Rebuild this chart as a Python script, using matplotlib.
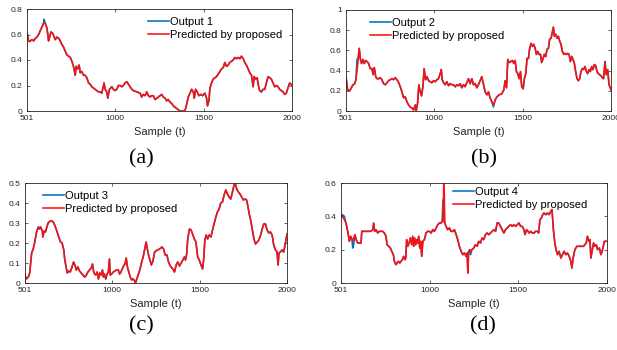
import matplotlib
matplotlib.use("Agg")
import matplotlib.pyplot as plt

plt.rcParams['font.family'] = ['Liberation Sans', 'DejaVu Sans']

BLUE = '#0072bd'
RED = '#ff1010'
GREY = '#262626'

# ---- output 1 ----
t1 = [501, 510, 516, 529, 539, 548, 557, 567, 576, 586,
      595, 597, 604, 614, 620, 623, 629, 636, 646, 655,
      661, 670, 680, 689, 699, 708, 717, 727, 736, 746,
      755, 764, 774, 779, 787, 796, 802, 811, 821, 830,
      840, 849, 858, 868, 877, 887, 896, 905, 915, 924,
      937, 943, 952, 958, 967, 981, 990, 999, 1009, 1018,
      1028, 1037, 1046, 1056, 1065, 1075, 1084, 1094, 1103, 1122,
      1141, 1150, 1159, 1169, 1178, 1188, 1197, 1206, 1216, 1225,
      1235, 1253, 1263, 1272, 1282, 1291, 1300, 1310, 1319, 1329,
      1338, 1348, 1357, 1366, 1385, 1394, 1404, 1413, 1423, 1432,
      1442, 1447, 1455, 1464, 1473, 1485, 1494, 1501, 1507, 1517,
      1522, 1530, 1536, 1545, 1554, 1564, 1573, 1583, 1592, 1601,
      1611, 1620, 1630, 1639, 1648, 1658, 1667, 1677, 1686, 1695,
      1705, 1714, 1724, 1733, 1742, 1752, 1761, 1771, 1780, 1786,
      1795, 1803, 1810, 1817, 1827, 1836, 1846, 1855, 1865, 1874,
      1883, 1893, 1902, 1912, 1921, 1930, 1940, 1949, 1959, 1968,
      1977, 1987, 1994, 2000]
out1 = [0.62, 0.55, 0.545, 0.56, 0.55, 0.57, 0.58, 0.60, 0.63, 0.66,
        0.69, 0.72, 0.69, 0.65, 0.58, 0.55, 0.58, 0.62, 0.61, 0.58,
        0.56, 0.58, 0.57, 0.55, 0.52, 0.50, 0.47, 0.44, 0.43, 0.42,
        0.39, 0.35, 0.28, 0.35, 0.33, 0.36, 0.30, 0.31, 0.28, 0.28,
        0.26, 0.22, 0.21, 0.19, 0.18, 0.17, 0.16, 0.15, 0.15, 0.14,
        0.22, 0.17, 0.15, 0.10, 0.17, 0.19, 0.17, 0.16, 0.17, 0.20,
        0.20, 0.19, 0.20, 0.22, 0.23, 0.21, 0.19, 0.17, 0.16, 0.15,
        0.14, 0.11, 0.13, 0.12, 0.15, 0.12, 0.11, 0.12, 0.12, 0.09,
        0.10, 0.12, 0.13, 0.11, 0.10, 0.08, 0.09, 0.07, 0.06, 0.04,
        0.03, 0.02, 0.01, 0.00, 0.00, 0.00, 0.05, 0.11, 0.14, 0.17,
        0.15, 0.10, 0.17, 0.15, 0.12, 0.13, 0.12, 0.13, 0.14, 0.10,
        0.04, 0.08, 0.18, 0.22, 0.25, 0.26, 0.27, 0.29, 0.31, 0.33,
        0.34, 0.38, 0.35, 0.36, 0.38, 0.39, 0.40, 0.42, 0.41, 0.42,
        0.41, 0.43, 0.41, 0.38, 0.36, 0.33, 0.30, 0.28, 0.19, 0.27,
        0.25, 0.26, 0.20, 0.16, 0.15, 0.17, 0.17, 0.22, 0.27, 0.26,
        0.25, 0.22, 0.19, 0.20, 0.19, 0.17, 0.16, 0.15, 0.13, 0.14,
        0.18, 0.22, 0.21, 0.20]
# samples where the prediction departs from the measured output
pred1_diff = {597: 0.69}

# ---- output 2 ----
t2 = [501, 510, 522, 531, 541, 550, 557, 563, 569, 576,
      582, 589, 597, 605, 612, 620, 629, 638, 648, 654,
      661, 669, 676, 686, 695, 704, 714, 723, 733, 742,
      751, 761, 770, 780, 789, 799, 808, 817, 827, 836,
      846, 855, 864, 874, 883, 893, 898, 906, 913, 921,
      928, 936, 943, 951, 959, 968, 977, 987, 996, 1006,
      1015, 1024, 1034, 1040, 1045, 1053, 1062, 1072, 1081, 1090,
      1100, 1109, 1119, 1128, 1137, 1147, 1156, 1166, 1175, 1184,
      1194, 1203, 1213, 1222, 1232, 1241, 1250, 1260, 1269, 1279,
      1288, 1298, 1307, 1316, 1326, 1335, 1345, 1354, 1367, 1382,
      1394, 1401, 1409, 1416, 1424, 1433, 1443, 1450, 1458, 1465,
      1473, 1480, 1488, 1495, 1503, 1510, 1518, 1525, 1533, 1540,
      1548, 1556, 1563, 1571, 1578, 1586, 1593, 1601, 1608, 1616,
      1623, 1631, 1638, 1646, 1653, 1661, 1669, 1674, 1680, 1687,
      1695, 1702, 1710, 1717, 1725, 1733, 1740, 1748, 1755, 1763,
      1770, 1778, 1785, 1793, 1800, 1808, 1815, 1823, 1830, 1838,
      1845, 1853, 1861, 1868, 1876, 1883, 1891, 1898, 1906, 1913,
      1921, 1928, 1936, 1943, 1951, 1958, 1966, 1973, 1981, 1989,
      1996, 2000]
out2 = [0.34, 0.21, 0.20, 0.23, 0.26, 0.27, 0.31, 0.51, 0.52, 0.62,
        0.52, 0.47, 0.51, 0.47, 0.50, 0.49, 0.47, 0.42, 0.42, 0.36,
        0.43, 0.34, 0.32, 0.32, 0.33, 0.31, 0.27, 0.26, 0.28, 0.30,
        0.31, 0.32, 0.31, 0.33, 0.31, 0.28, 0.24, 0.19, 0.13, 0.14,
        0.09, 0.06, 0.04, 0.03, 0.01, 0.06, 0.00, 0.08, 0.26, 0.19,
        0.15, 0.24, 0.42, 0.31, 0.34, 0.30, 0.29, 0.28, 0.30, 0.29,
        0.31, 0.32, 0.37, 0.41, 0.31, 0.28, 0.26, 0.29, 0.25, 0.27,
        0.26, 0.26, 0.24, 0.26, 0.25, 0.27, 0.23, 0.26, 0.24, 0.28,
        0.32, 0.27, 0.32, 0.26, 0.27, 0.23, 0.26, 0.30, 0.34, 0.26,
        0.19, 0.16, 0.19, 0.13, 0.09, 0.04, 0.11, 0.14, 0.16, 0.17,
        0.21, 0.30, 0.23, 0.51, 0.48, 0.49, 0.50, 0.47, 0.50, 0.39,
        0.37, 0.32, 0.39, 0.24, 0.22, 0.32, 0.37, 0.52, 0.52, 0.62,
        0.67, 0.64, 0.66, 0.62, 0.56, 0.59, 0.56, 0.56, 0.48, 0.52,
        0.56, 0.54, 0.61, 0.62, 0.71, 0.72, 0.79, 0.83, 0.74, 0.76,
        0.72, 0.74, 0.69, 0.66, 0.59, 0.56, 0.57, 0.56, 0.57, 0.56,
        0.49, 0.54, 0.51, 0.47, 0.39, 0.32, 0.30, 0.32, 0.39, 0.42,
        0.41, 0.44, 0.39, 0.37, 0.41, 0.39, 0.44, 0.41, 0.46, 0.45,
        0.39, 0.37, 0.36, 0.35, 0.33, 0.32, 0.49, 0.36, 0.41, 0.26,
        0.23, 0.21]
pred2_diff = {563: 0.39, 569: 0.49, 1335: 0.06}

# ---- output 3 ----
t3 = [501, 509, 520, 528, 539, 548, 558, 567, 577, 584,
      590, 600, 603, 611, 618, 626, 633, 645, 656, 666,
      675, 685, 694, 704, 713, 723, 728, 736, 743, 751,
      760, 770, 779, 789, 794, 804, 813, 823, 832, 842,
      849, 861, 870, 880, 887, 893, 899, 906, 914, 921,
      929, 936, 944, 950, 955, 963, 970, 978, 984, 989,
      997, 1006, 1016, 1025, 1035, 1042, 1050, 1057, 1065, 1073,
      1080, 1088, 1095, 1103, 1111, 1118, 1126, 1133, 1141, 1148,
      1158, 1167, 1177, 1186, 1194, 1201, 1209, 1216, 1224, 1233,
      1243, 1258, 1271, 1284, 1294, 1303, 1313, 1322, 1332, 1341,
      1351, 1356, 1366, 1375, 1385, 1394, 1404, 1413, 1419, 1426,
      1432, 1442, 1451, 1460, 1470, 1479, 1489, 1498, 1508, 1517,
      1523, 1530, 1538, 1546, 1555, 1565, 1574, 1584, 1593, 1602,
      1612, 1621, 1631, 1640, 1650, 1659, 1669, 1678, 1688, 1697,
      1703, 1712, 1722, 1731, 1741, 1750, 1760, 1769, 1777, 1784,
      1792, 1801, 1811, 1820, 1830, 1839, 1849, 1858, 1867, 1877,
      1886, 1896, 1905, 1915, 1924, 1934, 1943, 1949, 1954, 1962,
      1972, 1981, 1990, 2000]
out3 = [0.04, 0.02, 0.03, 0.05, 0.15, 0.17, 0.21, 0.255, 0.28, 0.27,
        0.28, 0.26, 0.23, 0.26, 0.255, 0.28, 0.30, 0.31, 0.31, 0.30,
        0.28, 0.255, 0.23, 0.205, 0.20, 0.165, 0.12, 0.08, 0.05, 0.06,
        0.055, 0.08, 0.105, 0.085, 0.065, 0.08, 0.06, 0.05, 0.04, 0.03,
        0.035, 0.055, 0.065, 0.075, 0.095, 0.06, 0.045, 0.04, 0.055, 0.02,
        0.05, 0.04, 0.065, 0.03, 0.045, 0.02, 0.045, 0.055, 0.12, 0.04,
        0.045, 0.055, 0.06, 0.065, 0.065, 0.045, 0.055, 0.07, 0.085, 0.095,
        0.125, 0.075, 0.055, 0.03, 0.015, 0.02, 0.015, 0.0, 0.02, 0.04,
        0.065, 0.10, 0.13, 0.17, 0.205, 0.17, 0.135, 0.115, 0.09, 0.11,
        0.155, 0.165, 0.17, 0.18, 0.17, 0.14, 0.14, 0.105, 0.085, 0.075,
        0.065, 0.055, 0.09, 0.105, 0.085, 0.10, 0.115, 0.13, 0.115, 0.145,
        0.22, 0.27, 0.265, 0.245, 0.22, 0.205, 0.13, 0.115, 0.09, 0.07,
        0.115, 0.215, 0.24, 0.22, 0.24, 0.23, 0.265, 0.30, 0.33, 0.355,
        0.37, 0.40, 0.405, 0.44, 0.465, 0.445, 0.43, 0.42, 0.455, 0.49,
        0.50, 0.47, 0.455, 0.445, 0.43, 0.415, 0.42, 0.415, 0.38, 0.345,
        0.315, 0.27, 0.22, 0.195, 0.205, 0.215, 0.24, 0.27, 0.295, 0.295,
        0.265, 0.25, 0.255, 0.24, 0.19, 0.165, 0.155, 0.09, 0.15, 0.155,
        0.165, 0.155, 0.195, 0.245]
pred3_diff = {}

# ---- output 4 ----
t4 = [501, 510, 520, 529, 539, 548, 555, 563, 567, 572,
      580, 587, 595, 604, 614, 618, 629, 642, 651, 661,
      670, 680, 685, 691, 698, 708, 717, 727, 736, 745,
      755, 760, 770, 779, 787, 796, 802, 810, 817, 825,
      832, 839, 847, 854, 862, 866, 871, 877, 885, 892,
      900, 905, 911, 916, 922, 928, 933, 939, 945, 950,
      956, 962, 971, 980, 990, 999, 1009, 1018, 1027, 1037,
      1046, 1056, 1065, 1071, 1076, 1081, 1086, 1093, 1102, 1112,
      1121, 1131, 1140, 1150, 1159, 1168, 1178, 1187, 1197, 1206,
      1212, 1216, 1220, 1227, 1231, 1239, 1249, 1258, 1268, 1277,
      1287, 1296, 1305, 1315, 1324, 1334, 1343, 1353, 1362, 1372,
      1381, 1390, 1400, 1409, 1419, 1428, 1438, 1447, 1456, 1466,
      1475, 1485, 1494, 1504, 1513, 1522, 1532, 1538, 1547, 1555,
      1562, 1570, 1579, 1589, 1598, 1607, 1615, 1622, 1630, 1638,
      1645, 1655, 1664, 1673, 1683, 1690, 1698, 1706, 1713, 1721,
      1730, 1740, 1749, 1758, 1768, 1777, 1787, 1796, 1802, 1809,
      1819, 1830, 1843, 1856, 1868, 1875, 1883, 1890, 1898, 1904,
      1909, 1917, 1924, 1932, 1940, 1947, 1957, 1966, 1975, 1985,
      1994, 2000]
out4 = [0.40, 0.41, 0.40, 0.36, 0.31, 0.25, 0.28, 0.26, 0.21, 0.23,
        0.28, 0.26, 0.24, 0.24, 0.24, 0.31, 0.31, 0.31, 0.31, 0.31,
        0.31, 0.32, 0.36, 0.31, 0.32, 0.30, 0.31, 0.31, 0.31, 0.30,
        0.28, 0.23, 0.22, 0.21, 0.19, 0.17, 0.13, 0.11, 0.12, 0.13,
        0.12, 0.13, 0.14, 0.16, 0.14, 0.15, 0.26, 0.22, 0.24, 0.27,
        0.23, 0.28, 0.22, 0.27, 0.23, 0.26, 0.24, 0.28, 0.21, 0.25,
        0.16, 0.25, 0.26, 0.30, 0.31, 0.31, 0.30, 0.32, 0.31, 0.33,
        0.35, 0.36, 0.36, 0.37, 0.50, 0.37, 0.36, 0.34, 0.32, 0.33,
        0.31, 0.31, 0.32, 0.29, 0.26, 0.22, 0.19, 0.17, 0.18, 0.16,
        0.18, 0.06, 0.19, 0.20, 0.17, 0.20, 0.21, 0.23, 0.22, 0.25,
        0.24, 0.27, 0.26, 0.29, 0.30, 0.29, 0.30, 0.31, 0.32, 0.31,
        0.36, 0.36, 0.34, 0.32, 0.30, 0.32, 0.33, 0.34, 0.35, 0.34,
        0.35, 0.34, 0.35, 0.36, 0.34, 0.34, 0.32, 0.29, 0.32, 0.31,
        0.30, 0.31, 0.30, 0.30, 0.31, 0.31, 0.30, 0.38, 0.39, 0.41,
        0.42, 0.41, 0.42, 0.41, 0.43, 0.44, 0.32, 0.24, 0.20, 0.17,
        0.19, 0.15, 0.17, 0.19, 0.17, 0.18, 0.16, 0.13, 0.09, 0.15,
        0.20, 0.22, 0.22, 0.22, 0.22, 0.23, 0.24, 0.28, 0.25, 0.26,
        0.15, 0.20, 0.24, 0.22, 0.23, 0.20, 0.21, 0.17, 0.20, 0.25,
        0.25, 0.25]
pred4_diff = {501: 0.39, 510: 0.40, 520: 0.38, 567: 0.25, 572: 0.27,
              580: 0.29, 1076: 0.37, 1081: 0.65, 1231: 0.19}

x_ticks = [501, 1000, 1500, 2000]

panels = [
    # t, output, prediction changes, y ticks, y tick labels, label, legend anchor
    (t1, out1, pred1_diff, [0, 0.2, 0.4, 0.6, 0.8],
     ['0', '0.2', '0.4', '0.6', '0.8'], 'Output 1', (0.457, 0.92)),
    (t2, out2, pred2_diff, [0, 0.2, 0.4, 0.6, 0.8, 1.0],
     ['0', '0.2', '0.4', '0.6', '0.8', '1'], 'Output 2', (0.091, 0.92)),
    (t3, out3, pred3_diff, [0, 0.1, 0.2, 0.3, 0.4, 0.5],
     ['0', '0.1', '0.2', '0.3', '0.4', '0.5'], 'Output 3', (0.069, 0.92)),
    (t4, out4, pred4_diff, [0, 0.2, 0.4, 0.6],
     ['0', '0.2', '0.4', '0.6'], 'Output 4', (0.421, 0.96)),
]
letters = ['(a)', '(b)', '(c)', '(d)']

W, H = 617, 350
fig = plt.figure(figsize=(W / 100, H / 100), dpi=100)

# axes boxes in pixels: left, top, right, bottom
boxes = [(27, 9, 292, 111), (346, 10, 611, 111),
         (25, 183, 287, 283), (341, 183, 607, 283)]
letter_pos = [(141, 159), (484, 159), (141, 326), (483, 326)]

for (l, t, r, b), panel, letter, (lx, ly) in zip(boxes, panels, letters, letter_pos):
    ts, out, diff, yt, ytl, name, anchor = panel
    pred = [diff.get(s, v) for s, v in zip(ts, out)]

    ax = fig.add_axes([l / W, 1 - b / H, (r - l) / W, (b - t) / H])
    ax.plot(ts, out, color=BLUE, lw=1.15, label=name)
    ax.plot(ts, pred, color=RED, lw=1.15, label='Predicted by proposed')

    ax.set_xlim(501, 2000)
    ax.set_ylim(yt[0], yt[-1])
    ax.set_xticks(x_ticks)
    ax.set_xticklabels([str(v) for v in x_ticks])
    ax.set_yticks(yt)
    ax.set_yticklabels(ytl)
    ax.tick_params(direction='in', length=2.5, width=0.5, labelsize=6,
                   colors=GREY, top=True, right=True)
    ax.tick_params(axis='x', pad=3)
    ax.tick_params(axis='y', pad=3)
    for sp in ax.spines.values():
        sp.set_linewidth(0.6)
        sp.set_color(GREY)
    ax.set_xlabel('Sample (t)', fontsize=8, color=GREY, labelpad=3.5)

    ax.legend(loc='upper left', bbox_to_anchor=anchor, frameon=False,
              fontsize=8, borderpad=0, borderaxespad=0, handlelength=1.9,
              handletextpad=0.1, labelspacing=0.25)

    fig.text(lx / W, 1 - ly / H, letter, ha='center', va='center',
             fontsize=16, family='Liberation Serif')

fig.savefig('out.png', dpi=100)
